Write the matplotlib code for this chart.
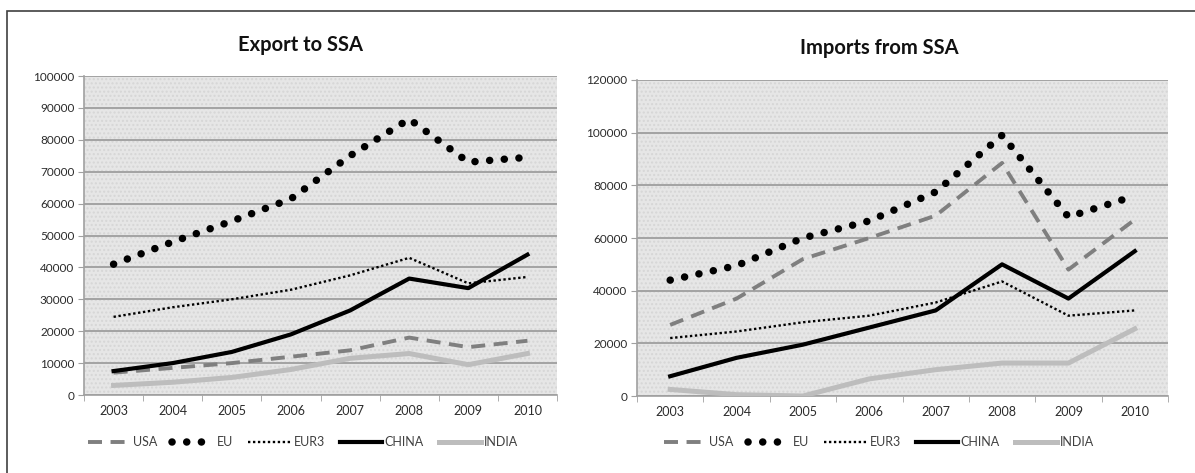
import matplotlib.pyplot as plt
from matplotlib.patches import Rectangle
import numpy as np

plt.rcParams['font.family'] = ['Lato', 'DejaVu Sans']

# Data
years = ["2003", "2004", "2005", "2006", "2007", "2008", "2009", "2010"]

exp_usa = [7000, 8500, 10000, 12000, 14000, 18000, 15000, 17000]
exp_eu = [41000, 48000, 54500, 61500, 75000, 86500, 73000, 74500]
exp_eur3 = [24500, 27500, 30000, 33000, 37500, 43000, 35000, 37000]
exp_china = [7500, 10000, 13500, 19000, 26500, 36500, 33500, 44000]
exp_india = [3000, 4000, 5500, 8000, 11500, 13000, 9500, 13000]

imp_usa = [27000, 37000, 52000, 60000, 68500, 88500, 48000, 67000]
imp_eu = [44000, 49500, 60000, 66500, 77500, 99000, 68000, 76000]
imp_eur3 = [22000, 24500, 28000, 30500, 35500, 43500, 30500, 32500]
imp_china = [7500, 14500, 19500, 26000, 32500, 50000, 37000, 55000]
imp_india = [2500, 500, 0, 6500, 10000, 12500, 12500, 25500]

W, H = 1195, 473
fig = plt.figure(figsize=(W / 100, H / 100), dpi=100)

# outer frame
fig.add_artist(Rectangle((7 / W, -0.05), 1.2, 1 - 11 / H + 0.05,
                         transform=fig.transFigure, fill=False,
                         edgecolor="#404040", linewidth=1.2))


def draw(ax, usa, eu, eur3, china, india, ymax, step, title, tx, ty, lx):
    x = np.arange(len(years))
    ax.set_facecolor("#e6e6e6")
    ax.add_patch(Rectangle((0, 0), 1, 1, transform=ax.transAxes, fill=False,
                           hatch="....", edgecolor="#d6d6d6", linewidth=0, zorder=0))
    ax.plot(x, usa, color="#7f7f7f", lw=2.8, ls=(0, (3.6, 2.2)), label="USA", zorder=3)
    ax.plot(x, eu, color="black", lw=5.4, ls=(0, (0.01, 1.95)),
            dash_capstyle="round", label="EU", zorder=4)
    ax.plot(x, eur3, color="black", lw=1.7, ls=(0, (1, 1.1)), label="EUR3", zorder=4)
    ax.plot(x, china, color="black", lw=3.0, label="CHINA", zorder=5)
    ax.plot(x, india, color="#bdbdbd", lw=3.6, label="INDIA", zorder=3)

    ax.set_xlim(-0.5, len(years) - 0.5)
    ax.set_ylim(0, ymax)
    ax.set_yticks(np.arange(0, ymax + 1, step))
    ax.set_yticklabels([str(v) for v in np.arange(0, ymax + 1, step)])
    ax.set_xticks(x)
    ax.set_xticklabels(years)
    ax.set_xticks(np.arange(-0.5, len(years)), minor=True)
    ax.tick_params(axis="x", which="major", length=0, pad=7,
                   labelsize=9, labelcolor="#2b2b2b")
    ax.tick_params(axis="x", which="minor", length=4, color="#a0a0a0", direction="out")
    ax.tick_params(axis="y", length=4, color="#a0a0a0", pad=3,
                   labelsize=8.5, labelcolor="#2b2b2b")
    ax.grid(axis="y", color="#a3a3a3", lw=1.4, zorder=1)
    ax.set_axisbelow(True)
    for s in ["top", "right"]:
        ax.spines[s].set_visible(False)
    for s in ["left", "bottom"]:
        ax.spines[s].set_color("#a0a0a0")
        ax.spines[s].set_linewidth(1.2)

    fig.text(tx, ty, title, ha="center", va="center", fontsize=14.5,
             fontweight="bold", color="#111111")
    ax.legend(loc="center", bbox_to_anchor=(lx, 1 - 442 / H),
              bbox_transform=fig.transFigure, ncol=5, frameon=False,
              fontsize=9, handlelength=3.4, handletextpad=0.2,
              columnspacing=1.2, labelcolor="#404040")


ax1 = fig.add_axes([84 / W, 1 - 395 / H, (557 - 84) / W, (395 - 76) / H])
draw(ax1, exp_usa, exp_eu, exp_eur3, exp_china, exp_india, 100000, 10000,
     "Export to SSA", 300 / W, 1 - 45 / H, 303 / W)

ax2 = fig.add_axes([637 / W, 1 - 396 / H, (1168 - 637) / W, (396 - 80) / H])
draw(ax2, imp_usa, imp_eu, imp_eur3, imp_china, imp_india, 120000, 20000,
     "Imports from SSA", 879 / W, 1 - 48 / H, 879 / W)

fig.savefig("out.png", dpi=100)
